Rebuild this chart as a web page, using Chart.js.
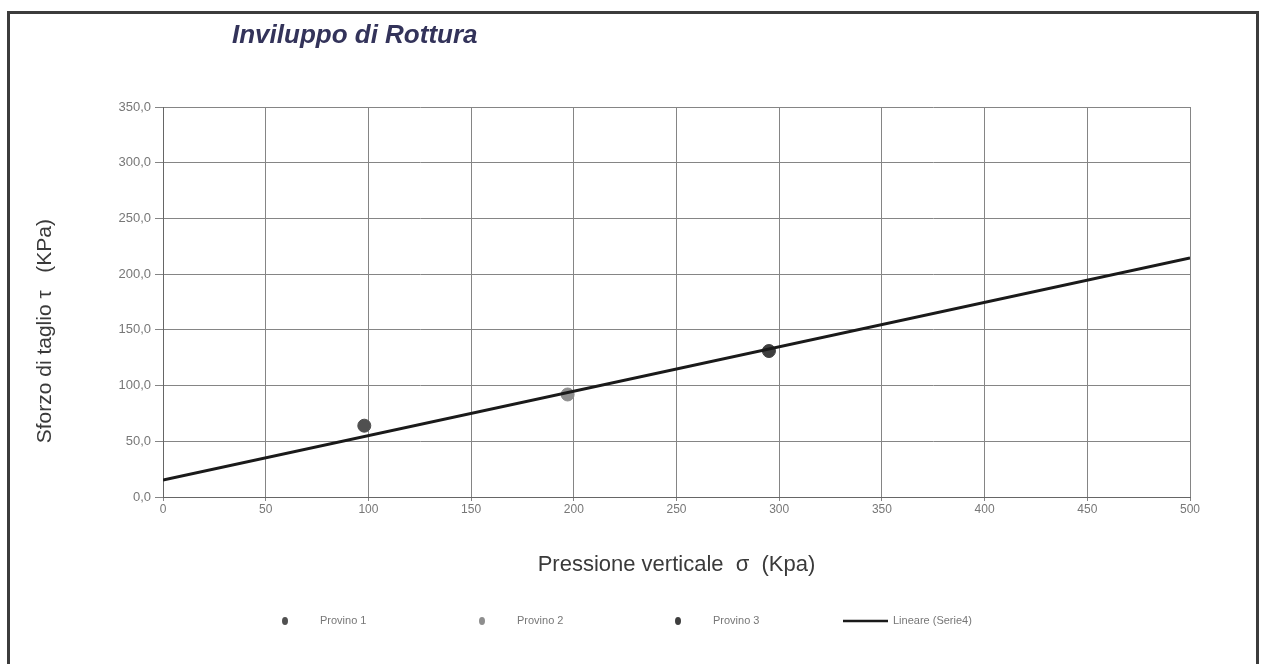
<!DOCTYPE html>
<html>
<head>
<meta charset="utf-8">
<script src="https://cdn.jsdelivr.net/npm/chart.js@4.4.1/dist/chart.umd.min.js"></script>
<style>
  html, body { margin: 0; padding: 0; background: #fff; }
  canvas { display: block; }
</style>
</head>
<body>
<canvas id="chart" width="1261" height="664"></canvas>
<script>
// Dati
const provinoLabels = ['Provino 1', 'Provino 2', 'Provino 3'];
const sigmaProvini = [98, 197, 295];
const tauProvini = [64, 92, 131];

const trendLabel = 'Lineare (Serie4)';
const trendSigma = [0, 500];
const trendTau = [15.3, 214.5];

const xTickLabels = ['0', '50', '100', '150', '200', '250', '300', '350', '400', '450', '500'];
const yTickLabels = ['0,0', '50,0', '100,0', '150,0', '200,0', '250,0', '300,0', '350,0'];

const FONT = "'Liberation Sans', Arial, sans-serif";
const pointColors = ['#505050', '#8e8e8e', '#3e3e3e'];

// cornice, titolo e legenda
const framePlugin = {
  id: 'frame',
  beforeDraw(chart) {
    const ctx = chart.ctx;
    ctx.save();
    ctx.fillStyle = '#fff';
    ctx.fillRect(0, 0, chart.width, chart.height);
    ctx.strokeStyle = '#3c3c3c';
    ctx.lineWidth = 3;
    ctx.strokeRect(8.5, 12.5, 1249, 720);
    ctx.restore();
  },
  afterDraw(chart) {
    const ctx = chart.ctx;
    ctx.save();
    ctx.font = 'italic bold 26px ' + FONT;
    ctx.fillStyle = '#33335a';
    ctx.textBaseline = 'alphabetic';
    ctx.fillText('Inviluppo di Rottura', 232, 43);

    // legenda
    const ly = 621;
    const marks = [285, 482, 678];
    ctx.font = '11px ' + FONT;
    ctx.textBaseline = 'middle';
    chart.data.datasets.forEach((ds, i) => {
      if (ds.type === 'line') {
        ctx.strokeStyle = ds.borderColor;
        ctx.lineWidth = 2.5;
        ctx.beginPath();
        ctx.moveTo(843, ly);
        ctx.lineTo(888, ly);
        ctx.stroke();
        ctx.fillStyle = '#777';
        ctx.fillText(ds.label, 893, ly);
      } else {
        ctx.fillStyle = ds.backgroundColor;
        ctx.beginPath();
        ctx.ellipse(marks[i], ly, 3, 4, 0, 0, Math.PI * 2);
        ctx.fill();
        ctx.fillStyle = '#777';
        ctx.fillText(ds.label, marks[i] + 35, ly);
      }
    });
    ctx.restore();
  }
};

const datasets = provinoLabels.map((label, i) => ({
  type: 'scatter',
  label: label,
  data: [{ x: sigmaProvini[i], y: tauProvini[i] }],
  backgroundColor: pointColors[i],
  borderColor: pointColors[i],
  pointRadius: 6.5,
  pointHoverRadius: 6.5,
  order: 1
}));

datasets.push({
  type: 'line',
  label: trendLabel,
  data: trendSigma.map((s, i) => ({ x: s, y: trendTau[i] })),
  borderColor: '#1a1a1a',
  borderWidth: 3,
  pointRadius: 0,
  fill: false,
  order: 0
});

new Chart(document.getElementById('chart'), {
  type: 'scatter',
  data: { datasets: datasets },
  options: {
    responsive: false,
    animation: false,
    layout: { padding: { left: 30, top: 107, right: 71, bottom: 77 } },
    plugins: {
      legend: { display: false },
      title: { display: false },
      tooltip: { enabled: false }
    },
    scales: {
      x: {
        type: 'linear',
        min: 0,
        max: 500,
        afterFit(scale) { scale.height = 90; },
        ticks: {
          stepSize: 50,
          padding: 1,
          color: '#777',
          font: { family: FONT, size: 12 },
          callback: (v, i) => xTickLabels[i]
        },
        grid: { color: '#858585', lineWidth: 1, tickLength: 4 },
        border: { color: '#666', width: 1 },
        title: {
          display: true,
          text: 'Pressione verticale  σ  (Kpa)',
          color: '#3a3a3a',
          font: { family: FONT, size: 22 },
          padding: { top: 0, bottom: 9 }
        }
      },
      y: {
        type: 'linear',
        min: 0,
        max: 350,
        afterFit(scale) { scale.width = 133; },
        ticks: {
          stepSize: 50,
          padding: 4,
          color: '#777',
          font: { family: FONT, size: 13 },
          callback: (v, i) => yTickLabels[i]
        },
        grid: { color: '#858585', lineWidth: 1, tickLength: 8 },
        border: { color: '#666', width: 1 },
        title: {
          display: true,
          text: 'Sforzo di taglio τ   (KPa)          ',
          color: '#3a3a3a',
          font: { family: FONT, size: 21 },
          padding: { top: 3, bottom: 0 }
        }
      }
    }
  },
  plugins: [framePlugin]
});
</script>
</body>
</html>
